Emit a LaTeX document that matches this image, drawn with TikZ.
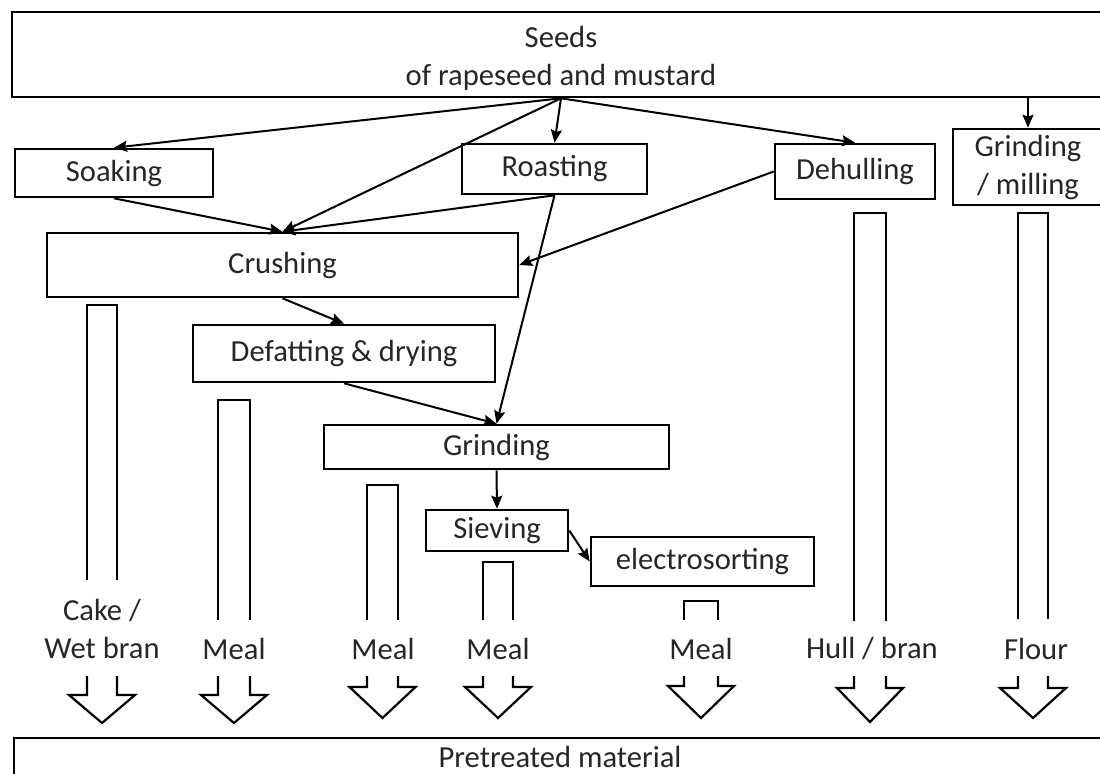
\documentclass[tikz,border=0pt]{standalone}
\usepackage{fontspec}
\setmainfont{Carlito}
\usetikzlibrary{arrows.meta}

\begin{document}
\begin{tikzpicture}[
    x=0.5pt, y=-0.5pt,
    font=\fontsize{15.3}{19}\selectfont,
    box/.style={rectangle, draw, line width=1.3pt, inner sep=0pt, align=center, text=black!85},
    lbl/.style={inner sep=0pt, align=center, text=black!85},
    line/.style={draw, -{Stealth[length=6.5pt, width=5.5pt, inset=1pt]}, line width=1pt},
    bar/.style={draw, line width=1.1pt, line join=miter}
]
    \useasboundingbox (0,0) rectangle (1100,773);

    %% PROCESS STEPS
    \node [box, minimum width=549pt, minimum height=42.5pt] (seeds) at (561,54.5) {\rule{0pt}{14pt}Seeds\\of rapeseed and mustard};
    \node [box, minimum width=99pt, minimum height=24pt] (soak) at (114,173) {Soaking};
    \node [box, minimum width=92.5pt, minimum height=25pt] (roast) at (554.5,169) {Roasting};
    \node [box, minimum width=80pt, minimum height=27.5pt] (dehull) at (855,171.5) {Dehulling};
    \node [box, minimum width=75pt, minimum height=38pt] (mill) at (1028,167) {Grinding\\/ milling};
    \node [box, minimum width=235.5pt, minimum height=32pt] (crush) at (282.5,265) {Crushing};
    \node [box, minimum width=151pt, minimum height=28.5pt] (defat) at (344,353.5) {Defatting \& drying};
    \node [box, minimum width=172.5pt, minimum height=22pt] (grind) at (496.5,447) {Grinding};
    \node [box, minimum width=71pt, minimum height=20.5pt] (sieve) at (497,530.5) {Sieving};
    \node [box, minimum width=111.5pt, minimum height=24.5pt] (esort) at (702.5,561.5) {electrosorting};
    \node [box, minimum width=546pt, minimum height=19pt] (pretreat) at (560,757) {Pretreated material};

    % Paths from the seeds
    \path [line] (seeds.south) -- (soak.north);
    \path [line] (seeds.south) -- (crush.north);
    \path [line] (seeds.south) -- (roast.north);
    \path [line] (seeds.south) -- (dehull.north);
    \path [line] (seeds.south -| mill.north) -- (mill.north);

    % Into crushing
    \path [line] (soak.south) -- (crush.north);
    \path [line] (roast.south) -- (crush.north);
    \path [line] (dehull.west) -- (crush.east);

    % Down to grinding and sorting
    \path [line] (crush.south) -- (defat.north);
    \path [line] (defat.south) -- (grind.north);
    \path [line] (roast.south) -- (grind.north);
    \path [line] (grind.south) -- (sieve.north);
    \path [line] (sieve.east) -- (esort.west);

    %% PRODUCTS
    \node [lbl] (cake) at (102,629) {Cake /\\Wet bran};
    \node [lbl] (meala) at (234,649) {Meal};
    \node [lbl] (mealb) at (383,649) {Meal};
    \node [lbl] (mealc) at (498,649) {Meal};
    \node [lbl] (meald) at (701,649) {Meal};
    \node [lbl] (hull) at (872,649) {Hull / bran};
    \node [lbl] (flour) at (1036,649) {Flour};

    % Hollow arrows
    \foreach \cx/\hw/\top/\bot/\nt/\tp in {102/15/305/580/695/723, 234/16/400/620/695/723,
        382.5/15.5/485/620/687/718, 498/15/562/620/687/718, 701/17/601/620/686/718,
        870/16/213/621/688/722, 1033/15/213/619/688/718}{
        \draw [bar] (\cx-\hw,\bot) -- (\cx-\hw,\top) -- (\cx+\hw,\top) -- (\cx+\hw,\bot);
        \draw [bar] (\cx-\hw,676) -- (\cx-\hw,\nt) -- (\cx-33,\nt) -- (\cx,\tp)
            -- (\cx+33,\nt) -- (\cx+\hw,\nt) -- (\cx+\hw,676);
    }

\end{tikzpicture}
\end{document}
